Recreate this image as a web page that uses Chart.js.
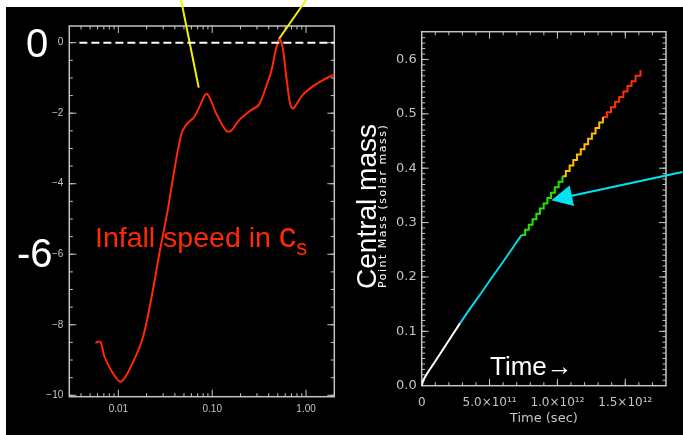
<!DOCTYPE html>
<html>
<head>
<meta charset="utf-8">
<script src="https://cdn.jsdelivr.net/npm/chart.js@4.4.1/dist/chart.umd.min.js"></script>
<style>
  html, body { margin: 0; padding: 0; background: #000; }
  #page { position: relative; width: 683px; height: 435px; background: #000; overflow: hidden; }
  .edge { position: absolute; background: #fff; }
  canvas { position: absolute; top: 0; }
</style>
</head>
<body>
<div id="page">
  <div class="edge" style="left:0;top:0;width:683px;height:7px"></div>
  <div class="edge" style="left:0;top:0;width:6px;height:435px"></div>
  <canvas id="infallChart" width="345" height="435" style="left:0"></canvas>
  <canvas id="massChart" width="338" height="435" style="left:345px"></canvas>
</div>
<script>
// ---- infall speed (left panel) ----
var infallR = [0.00569, 0.00643, 0.0071, 0.00869, 0.0107, 0.0142, 0.0182, 0.0223, 0.0274, 0.0336,
               0.0379, 0.0466, 0.0527, 0.0646, 0.0731, 0.0874, 0.110, 0.141, 0.159, 0.195,
               0.260, 0.313, 0.376, 0.425, 0.480, 0.520, 0.565, 0.623, 0.711, 0.923,
               1.18, 1.51, 1.93, 2.0];
var infallV = [-8.51, -8.48, -8.90, -9.36, -9.61, -9.08, -8.37, -7.29, -5.97, -4.74,
               -3.89, -2.62, -2.33, -2.10, -1.82, -1.45, -2.00, -2.50, -2.50, -2.19,
               -1.91, -1.77, -1.24, -0.82, -0.16, 0.10, -0.16, -1.06, -1.86, -1.48,
               -1.24, -1.06, -0.92, -0.90];
var infallRTicks = [0.01, 0.1, 1];
var infallRLabels = ['0.01', '0.10', '1.00'];
var infallVTicks = [-10, -8, -6, -4, -2, 0];
var infallVLabels = ['\u221210', '\u22128', '\u22126', '\u22124', '\u22122', '0'];
// zero reference and the two pointer lines (x, y pairs)
var zeroLine = [[0.00384, 0], [2.0, 0]];
var pointerA = [[0.0466, 1.21], [0.0718, -1.275]];
var pointerB = [[0.512, 0.096], [1.0, 1.21]];

// ---- central point mass (right panel) ----
var massTime = [0, 0.012e12, 0.041e12, 0.10e12, 0.16e12, 0.22e12, 0.282e12,
                0.36e12, 0.44e12, 0.52e12, 0.60e12, 0.68e12, 0.735e12,
                0.762e12, 0.789e12, 0.817e12, 0.845e12, 0.871e12, 0.899e12, 0.926e12, 0.953e12, 0.981e12, 1.009e12, 1.037e12,
                1.062e12, 1.090e12, 1.117e12, 1.144e12, 1.172e12, 1.199e12, 1.226e12, 1.254e12, 1.281e12, 1.308e12, 1.335e12,
                1.365e12, 1.395e12, 1.425e12, 1.455e12, 1.486e12, 1.516e12, 1.546e12, 1.576e12, 1.612e12];
var massValue = [0, 0.0105, 0.023, 0.045, 0.068, 0.091, 0.1147,
                 0.143, 0.171, 0.200, 0.228, 0.257, 0.277,
                 0.287, 0.296, 0.306, 0.316, 0.326, 0.335, 0.345, 0.355, 0.365, 0.375, 0.385,
                 0.395, 0.405, 0.415, 0.425, 0.435, 0.444, 0.454, 0.464, 0.474, 0.484, 0.494,
                 0.503, 0.512, 0.522, 0.531, 0.541, 0.551, 0.560, 0.570, 0.580];
// index where each colour phase starts, and the phase colours
var phaseStart = [0, 6, 12, 23, 34];
var phaseColor = ['#ffffff', '#00dcec', '#20e600', '#ffbe00', '#ff3000'];
var phaseStepped = [false, false, true, true, true];
var massTimeTicks = [0, 5e11, 1e12, 1.5e12];
var massTimeLabels = ['0', '5.0\u00d710\u00b9\u00b9', '1.0\u00d710\u00b9\u00b2', '1.5\u00d710\u00b9\u00b2'];
var massTicks = [0, 0.1, 0.2, 0.3, 0.4, 0.5, 0.6];
var massLabels = ['0.0', '0.1', '0.2', '0.3', '0.4', '0.5', '0.6'];
var arrowTail = [1.921e12, 0.393];
var arrowTip = [0.955e12, 0.341];

var AXIS_GREY = '#c4c4c4';

function pairs(list) {
  return list.map(function(p) { return { x: p[0], y: p[1] }; });
}

// box with inward ticks on all four sides, IDL style
var idlFrame = {
  id: 'idlFrame',
  beforeDatasetsDraw: function(chart, args, opts) {
    var ctx = chart.ctx, a = chart.chartArea;
    var x = chart.scales.x, y = chart.scales.y;
    ctx.save();
    ctx.strokeStyle = AXIS_GREY;
    ctx.lineWidth = 1.5;
    ctx.strokeRect(a.left, a.top, a.right - a.left, a.bottom - a.top);
    ctx.lineWidth = 1;
    ctx.beginPath();
    function xTick(v, len) {
      var px = x.getPixelForValue(v);
      if (px < a.left + 1 || px > a.right - 1) return;
      ctx.moveTo(px, a.bottom); ctx.lineTo(px, a.bottom - len);
      ctx.moveTo(px, a.top); ctx.lineTo(px, a.top + len);
    }
    function yTick(v, len) {
      var py = y.getPixelForValue(v);
      if (py < a.top + 1 || py > a.bottom - 1) return;
      ctx.moveTo(a.left, py); ctx.lineTo(a.left + len, py);
      ctx.moveTo(a.right, py); ctx.lineTo(a.right - len, py);
    }
    opts.xMajor.forEach(function(v) { xTick(v, 7); });
    opts.xMinor.forEach(function(v) { xTick(v, 3.5); });
    opts.yMajor.forEach(function(v) { yTick(v, 7); });
    opts.yMinor.forEach(function(v) { yTick(v, 3.5); });
    ctx.stroke();
    ctx.restore();
  }
};

// minor tick positions
var logMinor = [];
[0.001, 0.01, 0.1, 1].forEach(function(d) {
  for (var k = 2; k <= 9; k++) logMinor.push(k * d);
});
var infallMinor = [];
for (var v = -10; v <= 0.5; v += 0.5) infallMinor.push(v);
var timeMinor = [];
for (var t = 0; t <= 18; t++) timeMinor.push(t * 1e11);
var massMinor = [];
for (var m = 0; m <= 65; m++) massMinor.push(m / 100);

// labels drawn over the left panel
var infallNotes = {
  id: 'infallNotes',
  afterDraw: function(chart) {
    var ctx = chart.ctx, y = chart.scales.y;
    ctx.save();
    ctx.fillStyle = '#ffffff';
    ctx.font = '40px "Liberation Sans", Arial, sans-serif';
    ctx.textAlign = 'left';
    ctx.textBaseline = 'alphabetic';
    ctx.fillText('0', 26, y.getPixelForValue(0) + 14.5);
    ctx.fillText('-6', 17, y.getPixelForValue(-6) + 12.5);

    ctx.fillStyle = '#ff2a00';
    var x0 = 95, base = 247;
    ctx.font = '28.5px "Liberation Sans", Arial, sans-serif';
    ctx.fillText('Infall speed in ', x0, base);
    var w = ctx.measureText('Infall speed in ').width;
    ctx.font = '35px "Liberation Sans", Arial, sans-serif';
    ctx.fillText('c', x0 + w, base);
    var wc = ctx.measureText('c').width;
    ctx.font = '22px "Liberation Sans", Arial, sans-serif';
    ctx.fillText('s', x0 + w + wc, base + 8);
    ctx.restore();
  }
};

// titles and pointer arrow on the right panel
var massNotes = {
  id: 'massNotes',
  afterDraw: function(chart) {
    var ctx = chart.ctx, x = chart.scales.x, y = chart.scales.y;
    ctx.save();
    ctx.fillStyle = '#ffffff';

    ctx.save();
    ctx.translate(31, 206.5);
    ctx.rotate(-Math.PI / 2);
    ctx.textAlign = 'center';
    ctx.font = '28px "Liberation Sans", Arial, sans-serif';
    ctx.fillText('Central mass', 0, 0);
    ctx.restore();

    ctx.save();
    ctx.translate(40.5, 288);
    ctx.rotate(-Math.PI / 2);
    ctx.textAlign = 'left';
    ctx.font = '11px "DejaVu Sans", sans-serif';
    ctx.letterSpacing = '1.5px';
    ctx.fillText('Point Mass (solar mass)', 0, 0);
    ctx.restore();

    ctx.font = '26px "Liberation Sans", Arial, sans-serif';
    ctx.fillText('Time\u2192', 145, 375);

    // arrow
    var tx = x.getPixelForValue(arrowTip[0]), ty = y.getPixelForValue(arrowTip[1]);
    var sx = x.getPixelForValue(arrowTail[0]), sy = y.getPixelForValue(arrowTail[1]);
    var ang = Math.atan2(sy - ty, sx - tx);
    var headLen = 21, headHalf = 10.5;
    var bx = tx + Math.cos(ang) * headLen, by = ty + Math.sin(ang) * headLen;
    ctx.strokeStyle = '#00e4f0';
    ctx.fillStyle = '#00e4f0';
    ctx.lineWidth = 2;
    ctx.beginPath();
    ctx.moveTo(bx, by);
    ctx.lineTo(sx, sy);
    ctx.stroke();
    ctx.beginPath();
    ctx.moveTo(tx, ty);
    ctx.lineTo(bx - Math.sin(ang) * headHalf, by + Math.cos(ang) * headHalf);
    ctx.lineTo(bx + Math.sin(ang) * headHalf, by - Math.cos(ang) * headHalf);
    ctx.closePath();
    ctx.fill();
    ctx.restore();
  }
};

var infallPoints = infallR.map(function(r, i) { return { x: r, y: infallV[i] }; });

new Chart(document.getElementById('infallChart'), {
  type: 'line',
  data: {
    datasets: [
      { data: pairs(zeroLine), borderColor: '#ffffff', borderWidth: 2, borderDash: [8, 4], pointRadius: 0 },
      { data: infallPoints, borderColor: '#ff2a00', borderWidth: 2, pointRadius: 0, tension: 0.35 },
      { data: pairs(pointerA), borderColor: '#f2f200', borderWidth: 2, pointRadius: 0, clip: false },
      { data: pairs(pointerB), borderColor: '#f2f200', borderWidth: 2, pointRadius: 0, clip: false }
    ]
  },
  options: {
    responsive: false,
    animation: false,
    devicePixelRatio: 1,
    layout: { padding: { top: 26, right: 10.7, left: 0, bottom: 0 } },
    plugins: {
      legend: { display: false },
      tooltip: { enabled: false },
      idlFrame: { xMajor: infallRTicks, xMinor: logMinor, yMajor: infallVTicks, yMinor: infallMinor }
    },
    scales: {
      x: {
        type: 'logarithmic', min: 0.003, max: 2,
        grid: { display: false, drawTicks: false }, border: { display: false },
        afterBuildTicks: function(s) { s.ticks = infallRTicks.map(function(v) { return { value: v }; }); },
        afterFit: function(s) { s.height = 38.3; },
        ticks: {
          autoSkip: false, maxRotation: 0, minRotation: 0, padding: 7,
          color: AXIS_GREY, font: { family: '"Liberation Sans", Arial, sans-serif', size: 10 },
          callback: function(v, i) { return infallRLabels[i]; }
        }
      },
      y: {
        min: -10.04, max: 0.473,
        grid: { display: false, drawTicks: false }, border: { display: false },
        afterBuildTicks: function(s) { s.ticks = infallVTicks.map(function(v) { return { value: v }; }); },
        afterFit: function(s) { s.width = 69.3; },
        ticks: {
          autoSkip: false, padding: 6,
          color: AXIS_GREY, font: { family: '"Liberation Sans", Arial, sans-serif', size: 10 },
          callback: function(v, i) { return infallVLabels[i]; }
        }
      }
    }
  },
  plugins: [idlFrame, infallNotes]
});

// one dataset per colour phase, each joined to the next
var massSets = phaseStart.map(function(start, p) {
  var end = p + 1 < phaseStart.length ? phaseStart[p + 1] : massTime.length - 1;
  var pts = [];
  for (var i = start; i <= end; i++) pts.push({ x: massTime[i], y: massValue[i] });
  return {
    data: pts, borderColor: phaseColor[p], borderWidth: 2, pointRadius: 0,
    stepped: phaseStepped[p] ? 'before' : false
  };
});

new Chart(document.getElementById('massChart'), {
  type: 'line',
  data: { datasets: massSets },
  options: {
    responsive: false,
    animation: false,
    devicePixelRatio: 1,
    layout: { padding: { top: 31.7, right: 17, left: 0, bottom: 0 } },
    plugins: {
      legend: { display: false },
      tooltip: { enabled: false },
      idlFrame: { xMajor: massTimeTicks, xMinor: timeMinor, yMajor: massTicks, yMinor: massMinor }
    },
    scales: {
      x: {
        type: 'linear', min: 0, max: 1.8e12,
        grid: { display: false, drawTicks: false }, border: { display: false },
        afterBuildTicks: function(s) { s.ticks = massTimeTicks.map(function(v) { return { value: v }; }); },
        afterFit: function(s) { s.height = 49.3; },
        ticks: {
          autoSkip: false, maxRotation: 0, minRotation: 0, padding: 10,
          color: AXIS_GREY, font: { family: '"DejaVu Sans", sans-serif', size: 12 },
          callback: function(v, i) { return massTimeLabels[i]; }
        },
        title: {
          display: true, text: 'Time (sec)', color: AXIS_GREY,
          font: { family: '"DejaVu Sans", sans-serif', size: 13 },
          padding: { top: 0, bottom: 9 }
        }
      },
      y: {
        min: 0, max: 0.651,
        grid: { display: false, drawTicks: false }, border: { display: false },
        afterBuildTicks: function(s) { s.ticks = massTicks.map(function(v) { return { value: v }; }); },
        afterFit: function(s) { s.width = 76.7; },
        ticks: {
          autoSkip: false, padding: 5,
          color: AXIS_GREY, font: { family: '"DejaVu Sans", sans-serif', size: 13 },
          callback: function(v, i) { return massLabels[i]; }
        }
      }
    }
  },
  plugins: [idlFrame, massNotes]
});
</script>
</body>
</html>
